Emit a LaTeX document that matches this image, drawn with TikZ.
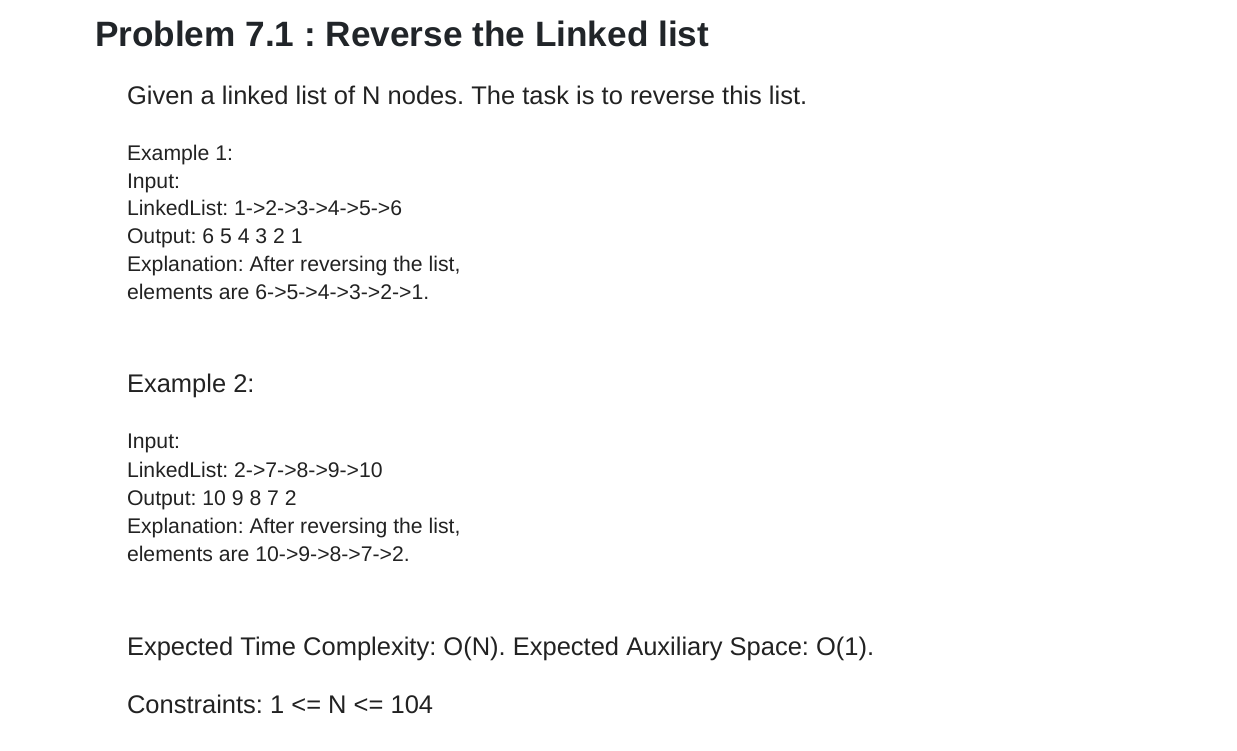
\documentclass[tikz,border=0pt]{standalone}
\usepackage{fontspec}
\setmainfont{Liberation Sans}
\usepackage{tikz}
\usetikzlibrary{positioning}

\definecolor{textdark}{HTML}{222222}
\definecolor{titledark}{HTML}{212529}

\begin{document}
\frenchspacing
\begin{tikzpicture}[x=1pt,y=-1pt,
  every node/.style={inner sep=0pt,outer sep=0pt,anchor=base west,text=textdark},
  heading/.style={font=\fontsize{35.2}{42}\selectfont\bfseries,text=titledark},
  bigtext/.style={font=\fontsize{25.5}{30}\selectfont},
  smalltext/.style={font=\fontsize{21.2}{26}\selectfont}]

    \useasboundingbox (0,0) rectangle (1237,750);

    \node[heading](title) at (95,46){Problem 7.1 : Reverse the Linked list};
    \node[bigtext](task) at (127,104){Given a linked list of N nodes. The task is to reverse this list.};

    % example 1
    \node[smalltext](ex1a) at (127,160){Example 1:};
    \node[smalltext](ex1b) at (127,188){Input:};
    \node[smalltext](ex1c) at (127,215){LinkedList: 1->2->3->4->5->6};
    \node[smalltext](ex1d) at (127,243){Output: 6 5 4 3 2 1};
    \node[smalltext](ex1e) at (127,271){Explanation: After reversing the list,};
    \node[smalltext](ex1f) at (127,299){elements are 6->5->4->3->2->1.};

    % example 2
    \node[bigtext](ex2head) at (127,392){Example 2:};
    \node[smalltext](ex2a) at (127,448){Input:};
    \node[smalltext](ex2b) at (127,477){LinkedList: 2->7->8->9->10};
    \node[smalltext](ex2c) at (127,505){Output: 10 9 8 7 2};
    \node[smalltext](ex2d) at (127,533){Explanation: After reversing the list,};
    \node[smalltext](ex2e) at (127,561){elements are 10->9->8->7->2.};

    \node[bigtext](cmplx) at (127,655){Expected Time Complexity: O(N). Expected Auxiliary Space: O(1).};
    \node[bigtext](cons) at (127,713){Constraints: 1 <= N <= 104};
\end{tikzpicture}
\end{document}
